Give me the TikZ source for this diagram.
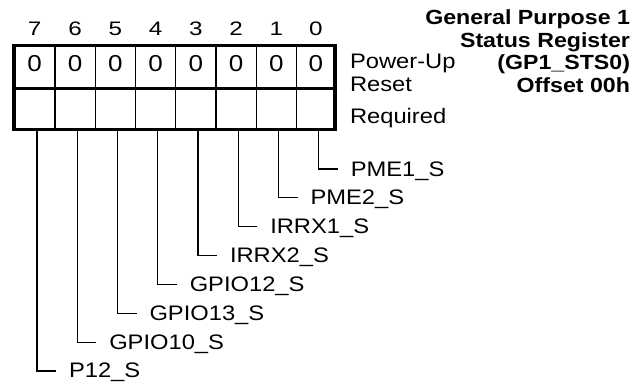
\documentclass[tikz,border=0pt]{standalone}
\usepackage{fontspec}
\setmainfont{Liberation Sans}
\begin{document}
\begin{tikzpicture}[x=1pt,y=-1pt,
  every node/.style={inner sep=0pt, outer sep=0pt, xscale=1.13},
  lab/.style={font=\fontsize{21}{25}\selectfont, anchor=base west},
  val/.style={font=\fontsize{23}{26}\selectfont, anchor=base},
  bitno/.style={font=\fontsize{19.5}{22}\selectfont, anchor=base, xscale=1.1},
  ttl/.style={font=\bfseries\fontsize{20.5}{24}\selectfont, anchor=base east},
  frame/.style={line width=3.3pt},
  divider/.style={line width=1.1pt},
  leader/.style={line width=1.1pt}]
\useasboundingbox (0,0) rectangle (643,381);
% register box
\foreach \x in {55,95.25,135.5,175.75,216,256.25,296.5}
  \draw[divider] (\x,45.3) -- (\x,129.3);
\draw[frame] (14,45.3) rectangle (335,129.3);
\draw[frame] (14,88.3) -- (335,88.3);
% bit numbers and reset values
\foreach \c/\b in {34.5/7,75.1/6,115.4/5,155.6/4,195.9/3,236.1/2,276.4/1,315.75/0}{
  \node[bitno] (n\b) at (\c,35.3) {\b};
  \node[val] (v\b) at (\c,71.8) {0};
}
% row labels
\node[lab] (pu) at (350,68.3) {Power-Up};
\node[lab] (rs) at (350,91.7) {Reset};
\node[lab] (rq) at (350,123.3) {Required};
% title
\node[ttl] (t1) at (630,24.5) {General Purpose 1};
\node[ttl] (t2) at (630,47) {Status Register};
\node[ttl] (t3) at (630,69.5) {(GP1\_STS0)};
\node[ttl] (t4) at (630,92) {Offset 00h};
% field leaders
\foreach \b/\name in {0/PME1\_S,1/PME2\_S,2/IRRX1\_S,3/IRRX2\_S,4/GPIO12\_S,5/GPIO13\_S,6/GPIO10\_S,7/P12\_S}{
  \pgfmathsetmacro{\lx}{37+(7-\b)*40.25}
  \pgfmathsetmacro{\ly}{169+\b*28.85}
  \coordinate (s\b) at (\lx,129.3);
  \coordinate (e\b) at (\lx+19,\ly);
  \node[lab] (f\b) at (\lx+32,\ly+7) {\name};
  \draw[leader] (s\b) |- (e\b);
}
\end{tikzpicture}
\end{document}
